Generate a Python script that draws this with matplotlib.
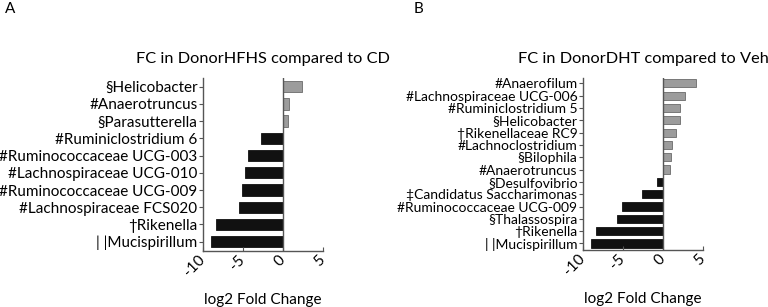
import matplotlib
matplotlib.use("Agg")
import matplotlib.pyplot as plt
import numpy as np

plt.rcParams['font.family'] = ['Lato', 'DejaVu Sans']

# panel A data (top to bottom as shown)
labels_A = ["§Helicobacter", "#Anaerotruncus", "§Parasutterella", "#Ruminiclostridium 6",
            "#Ruminococcaceae UCG-003", "#Lachnospiraceae UCG-010", "#Ruminococcaceae UCG-009",
            "#Lachnospiraceae FCS020", "\u2020Rikenella", "| |Mucispirillum"]
fc_A = [2.4, 0.75, 0.65, -2.8, -4.4, -4.75, -5.15, -5.45, -8.35, -9.05]

# panel B data
labels_B = ["#Anaerofilum", "#Lachnospiraceae UCG-006", "#Ruminiclostridium 5", "§Helicobacter",
            "\u2020Rikenellaceae RC9", "#Lachnoclostridium", "§Bilophila", "#Anaerotruncus",
            "§Desulfovibrio", "\u2021Candidatus Saccharimonas", "#Ruminococcaceae UCG-009",
            "§Thalassospira", "\u2020Rikenella", "| |Mucispirillum"]
fc_B = [4.08, 2.8, 2.17, 2.17, 1.58, 1.17, 1.04, 0.92, -0.7, -2.67, -5.17, -5.7, -8.4, -9.04]

xticks = [-10, -5, 0, 5]

fig = plt.figure(figsize=(7.68, 3.07), dpi=100)
W, H = 768, 307

def panel(rect, labels, vals, title, ylim, label_size):
    ax = fig.add_axes(rect)
    n = len(labels)
    y = np.arange(n)[::-1]
    cols = ['#9c9c9c' if v > 0 else '#111111' for v in vals]
    edges = ['#6a6a6a' if v > 0 else '#111111' for v in vals]
    ax.barh(y, vals, height=0.66, color=cols, edgecolor=edges, linewidth=0.6)
    ax.axvline(0, color='#555555', lw=1.0, zorder=3)
    ax.set_xlim(-10, 5)
    ax.set_ylim(*ylim)
    ax.set_yticks(y)
    ax.set_yticklabels(labels, fontsize=label_size)
    ax.set_xticks(xticks)
    ax.set_xticklabels([str(t) for t in xticks], rotation=45, fontsize=11,
                       ha='right', rotation_mode='anchor', va='center')
    ax.tick_params(axis='y', direction='out', length=3, width=0.8, color='#555555', pad=1)
    ax.tick_params(axis='x', direction='in', length=3, width=0.8, color='#555555', pad=5)
    for s in ['top', 'right']:
        ax.spines[s].set_visible(False)
    for s in ['left', 'bottom']:
        ax.spines[s].set_color('#555555')
        ax.spines[s].set_linewidth(1.0)
    ax.set_title(title, fontsize=11.8, pad=10.5)
    ax.set_xlabel("log2 Fold Change", fontsize=11)
    ax.xaxis.set_label_coords(0.5, -0.245)
    ax.xaxis.label.set_va('top')
    return ax

panel([203 / W, 1 - 251 / H, 120 / W, 173 / H], labels_A, fc_A,
      "FC in DonorHFHS compared to CD", (-0.54, 9.5), 11)
panel([583 / W, 1 - 250 / H, 120 / W, 172 / H], labels_B, fc_B,
      "FC in DonorDHT compared to Veh", (-0.53, 13.43), 10)

fig.text(5 / W, 1 - 2 / H, "A", fontsize=11, va='top')
fig.text(414 / W, 1 - 2 / H, "B", fontsize=11, va='top')

fig.savefig("out.png", dpi=100)
